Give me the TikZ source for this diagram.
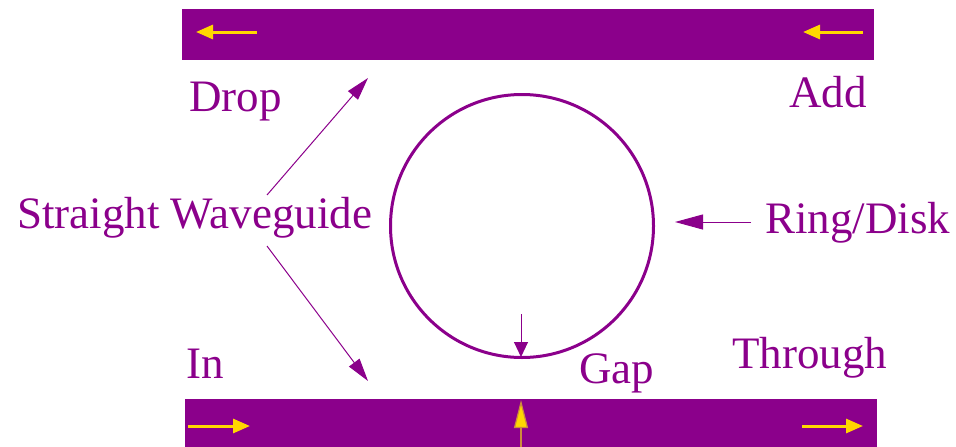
\documentclass[tikz,border=0pt]{standalone}
\usepackage{fontspec}
\setmainfont{Liberation Serif}
\usetikzlibrary{arrows.meta}
\definecolor{wg}{HTML}{8B008B}
\definecolor{ylw}{HTML}{FFD700}
\tikzset{
  lbl/.style={anchor=base west,inner sep=0pt,text=wg,font=\fontsize{45}{48}\selectfont},
  bar/.style={fill=wg,draw=none},
  flow/.style={draw=ylw,line width=3pt,-{Triangle[length=17pt,width=14pt]}},
  pointer/.style={draw=wg,line width=1pt,-{Triangle[length=23pt,width=13pt]}},
}
\begin{document}
\begin{tikzpicture}[x=1pt,y=-1pt]
\useasboundingbox (0,0) rectangle (956,447);
% waveguides
\path[bar] (182,9) rectangle (874,60);
\path[bar] (185,399) rectangle (877,447);
% ring
\node[draw=wg,line width=3pt,circle,minimum size=263pt,inner sep=0pt] (ring) at (522,226) {};
% light direction arrows
\coordinate (t1s) at (257,32); \coordinate (t1e) at (196,32);
\coordinate (t2s) at (863,32); \coordinate (t2e) at (803,32);
\coordinate (b1s) at (188,426); \coordinate (b1e) at (250,426);
\coordinate (b2s) at (802,426); \coordinate (b2e) at (863,426);
\draw[flow] (t1s) -- (t1e);
\draw[flow] (t2s) -- (t2e);
\draw[flow] (b1s) -- (b1e);
\draw[flow] (b2s) -- (b2e);
% labels
\node[lbl] (drop) at (189,111) {Drop};
\node[lbl] (add) at (789,107) {Add};
\node[lbl] (sw) at (17,228) {Straight Waveguide};
\node[lbl] (rd) at (765,233) {Ring/Disk};
\node[lbl] (in) at (186,378) {In};
\node[lbl] (gap) at (579,383) {Gap};
\node[lbl] (thr) at (732,368) {Through};
% pointers
\coordinate (swu) at (267,195); \coordinate (swut) at (368,78);
\coordinate (swd) at (267,246); \coordinate (swdt) at (368,381);
\draw[pointer] (swu) -- (swut);
\draw[pointer] (swd) -- (swdt);
\coordinate (rds) at (751,222); \coordinate (rdt) at (675,222);
\draw[pointer,-{Triangle[length=28pt,width=15pt]}] (rds) -- (rdt);
% gap arrows
\coordinate (g1s) at (521,314); \coordinate (g1t) at (521,357);
\draw[draw=wg,line width=1pt,-{Triangle[length=15pt,width=14pt]}] (g1s) -- (g1t);
\coordinate (g2s) at (521,447); \coordinate (g2t) at (521,400);
\draw[draw={rgb,255:red,205;green,140;blue,60},line width=1.2pt,-{Triangle[length=28pt,width=14pt,fill=ylw]}] (g2s) -- (g2t);
\end{tikzpicture}
\end{document}
